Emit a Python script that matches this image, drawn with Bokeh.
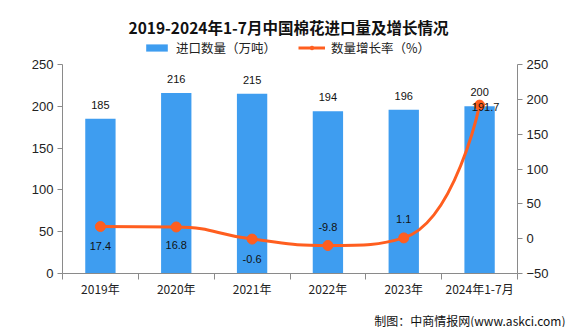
import math
from bokeh.plotting import figure
from bokeh.layouts import column
from bokeh.models import (ColumnDataSource, Range1d, LinearAxis, FixedTicker,
                          Legend, LegendItem, Label)
from bokeh.core.properties import value
from bokeh.embed import file_html
from bokeh.resources import INLINE

# ---------------- data ----------------
categories = ["2019年", "2020年", "2021年", "2022年", "2023年", "2024年1-7月"]
import_volume = [185, 216, 215, 194, 196, 200]          # 进口数量（万吨）
growth_rate = [17.4, 16.8, -0.6, -9.8, 1.1, 191.7]      # 数量增长率（%）
left_ticks = [0, 50, 100, 150, 200, 250]
right_ticks = [-50, 0, 50, 100, 150, 200, 250]
title_text = "2019-2024年1-7月中国棉花进口量及增长情况"
legend_labels = ["进口数量（万吨）", "数量增长率（%）"]
credit_text = "制图：中商情报网(www.askci.com)"

# ---------------- style ----------------
W, H = 576, 327
HH, FB = 56, 18                      # header / footer heights
BL, BR, BT, FH = 62, 59, 8, 209
MH = H - HH - FB                     # main figure height
BB = MH - BT - FH
FW = W - BL - BR
BAR_COLOR = "#3E9DF0"
LINE_COLOR = "#FF5E1F"
AXIS_COLOR = "#8a8a8a"
CJK = "Noto Sans CJK SC"
LAT = "Liberation Sans"
line_label_dy = [19, 18, 20, -18, -19, 2]
line_label_dx = [0, 0, 0, 0, 0, 6]

n = len(categories)
xs = [i + 0.5 for i in range(n)]
L0, L1 = left_ticks[0], left_ticks[-1]
R0, R1 = right_ticks[0], right_ticks[-1]

src = ColumnDataSource(dict(x=xs, v=import_volume, t=[str(v) for v in import_volume],
                            g=growth_rate, gt=[str(g) for g in growth_rate],
                            dy=line_label_dy, dx=line_label_dx))


def blank(h, **kw):
    # frame spans canvas x from BL to W-BR (aligned with the main chart);
    # the x range is set so that data x == canvas pixel x
    f = figure(width=W, height=h, x_range=Range1d(BL, W - BR), y_range=Range1d(0, h),
               output_backend="svg", toolbar_location=None,
               x_axis_type=None, y_axis_type=None,
               min_border_left=BL, min_border_right=BR,
               min_border_top=0, min_border_bottom=0,
               background_fill_color="white", border_fill_color="white", **kw)
    f.outline_line_color = None
    f.xgrid.visible = False
    f.ygrid.visible = False
    return f


# ---------------- header: title + legend ----------------
head = blank(HH)
head.add_layout(Label(x=W / 2, y=HH - 26, text=title_text, text_align="center",
                      text_baseline="middle", text_font=CJK, text_font_size="15.5px",
                      text_font_style="bold", text_color="#111111"))
# hidden renderers that only supply the legend swatches
lg_bar = head.vbar(x="x", top="v", width=0.4, source=src, fill_color=BAR_COLOR,
                   line_color=None, visible=False)
lg_line = head.line(x="x", y="g", source=src, line_color=LINE_COLOR, line_width=3,
                    visible=False)
lg_dot = head.scatter(x="x", y="g", source=src, size=9, fill_color=LINE_COLOR,
                      line_color=LINE_COLOR, visible=False)
legend = Legend(items=[LegendItem(label=legend_labels[0], renderers=[lg_bar]),
                       LegendItem(label=legend_labels[1], renderers=[lg_line, lg_dot])],
                orientation="horizontal", location=(143 - BL, -1),
                label_text_font=CJK, label_text_font_size="12.5px",
                label_text_color="#222222", glyph_width=27, glyph_height=9,
                label_height=14, label_standoff=6, spacing=22, padding=0, margin=0,
                inactive_fill_alpha=0, click_policy="none",
                background_fill_alpha=0, border_line_alpha=0)
head.add_layout(legend, "center")

# ---------------- main chart ----------------
p = figure(width=W, height=MH, x_range=Range1d(0, n), y_range=Range1d(L0, L1),
           output_backend="svg", toolbar_location=None,
           min_border_left=BL, min_border_right=BR, min_border_top=BT,
           min_border_bottom=BB, background_fill_color="white",
           border_fill_color="white")
p.extra_y_ranges = {"right": Range1d(R0, R1)}
p.xgrid.visible = False
p.ygrid.visible = False
p.outline_line_color = None

xa = p.xaxis[0]
xa.ticker = FixedTicker(ticks=xs, minor_ticks=list(range(n + 1)))
xa.major_label_overrides = {x: c for x, c in zip(xs, categories)}
xa.major_tick_out = 0
xa.major_tick_in = 0
xa.minor_tick_out = 6
xa.minor_tick_in = 0
xa.minor_tick_line_color = AXIS_COLOR
xa.axis_line_color = AXIS_COLOR
xa.major_label_text_font = CJK
xa.major_label_text_font_size = "12px"
xa.major_label_text_color = "#222222"
xa.major_label_standoff = 0

ya = p.yaxis[0]
ya.ticker = FixedTicker(ticks=left_ticks)
ya.major_tick_out = 5
ya.major_tick_in = 0
ya.minor_tick_line_color = None
ya.axis_line_color = AXIS_COLOR
ya.major_tick_line_color = AXIS_COLOR
ya.major_label_text_font = LAT
ya.major_label_text_font_size = "13px"
ya.major_label_text_color = "#222222"
ya.major_label_standoff = 4

ra = LinearAxis(y_range_name="right", ticker=FixedTicker(ticks=right_ticks))
ra.major_tick_out = 5
ra.major_tick_in = 0
ra.minor_tick_line_color = None
ra.axis_line_color = AXIS_COLOR
ra.major_tick_line_color = AXIS_COLOR
ra.major_label_text_font = LAT
ra.major_label_text_font_size = "13px"
ra.major_label_text_color = "#222222"
ra.major_label_standoff = 4
p.add_layout(ra, "right")

p.vbar(x="x", top="v", width=0.4, bottom=0, source=src,
       fill_color=BAR_COLOR, line_color=None)
p.text(x="x", y="v", text="t", source=src, y_offset=-14,
       text_align="center", text_baseline="middle",
       text_font=value(LAT), text_font_size="11px", text_color="#111111")

# smooth line (echarts-like bezier through the data points)
sx = FW / n
sy = FH / (R1 - R0)
pts = [(x * sx, -g * sy) for x, g in zip(xs, growth_rate)]
smooth = 0.5
segs = []
cp0 = pts[0]
for k in range(1, n):
    x, y = pts[k]
    prevX, prevY = pts[k - 1]
    if k == n - 1:
        segs.append((pts[k - 1], cp0, (x, y), (x, y)))
        break
    nextX, nextY = pts[k + 1]
    vx, vy = nextX - prevX, nextY - prevY
    lp = math.hypot(x - prevX, y - prevY)
    ln = math.hypot(nextX - x, nextY - y)
    r = ln / (ln + lp)
    ncx = x + vx * smooth * r
    ncy = y + vy * smooth * r
    ncx = min(ncx, max(nextX, x)); ncy = min(ncy, max(nextY, y))
    ncx = max(ncx, min(nextX, x)); ncy = max(ncy, min(nextY, y))
    vx, vy = ncx - x, ncy - y
    c1x = x - vx * lp / ln
    c1y = y - vy * lp / ln
    c1x = min(c1x, max(prevX, x)); c1y = min(c1y, max(prevY, y))
    c1x = max(c1x, min(prevX, x)); c1y = max(c1y, min(prevY, y))
    vx, vy = x - c1x, y - c1y
    ncx = x + vx * ln / lp
    ncy = y + vy * ln / lp
    segs.append((pts[k - 1], cp0, (c1x, c1y), (x, y)))
    cp0 = (ncx, ncy)


def bx(v):
    return v / sx


def by(v):
    return -v / sy


bez = dict(x0=[bx(s[0][0]) for s in segs], y0=[by(s[0][1]) for s in segs],
           cx0=[bx(s[1][0]) for s in segs], cy0=[by(s[1][1]) for s in segs],
           cx1=[bx(s[2][0]) for s in segs], cy1=[by(s[2][1]) for s in segs],
           x1=[bx(s[3][0]) for s in segs], y1=[by(s[3][1]) for s in segs])
p.bezier(source=ColumnDataSource(bez), x0="x0", y0="y0", x1="x1", y1="y1",
         cx0="cx0", cy0="cy0", cx1="cx1", cy1="cy1",
         line_color=LINE_COLOR, line_width=3, y_range_name="right")
p.scatter(x="x", y="g", source=src, size=10, fill_color=LINE_COLOR,
          line_color=LINE_COLOR, y_range_name="right")
p.text(x="x", y="g", text="gt", source=src, y_offset="dy", x_offset="dx",
       text_align="center", text_baseline="middle", y_range_name="right",
       text_font=value(LAT), text_font_size="11px", text_color="#111111")

# ---------------- footer: credit as a title panel (not clipped) ----------------
foot = blank(FB, title=credit_text, title_location="below")
foot.title.align = "right"
foot.title.offset = -48
foot.title.standoff = 0
foot.title.text_font = CJK
foot.title.text_font_size = "12px"
foot.title.text_font_style = "normal"
foot.title.text_color = "#111111"

layout = column(head, p, foot, spacing=0)
open("out.html", "w").write(file_html(layout, INLINE))
